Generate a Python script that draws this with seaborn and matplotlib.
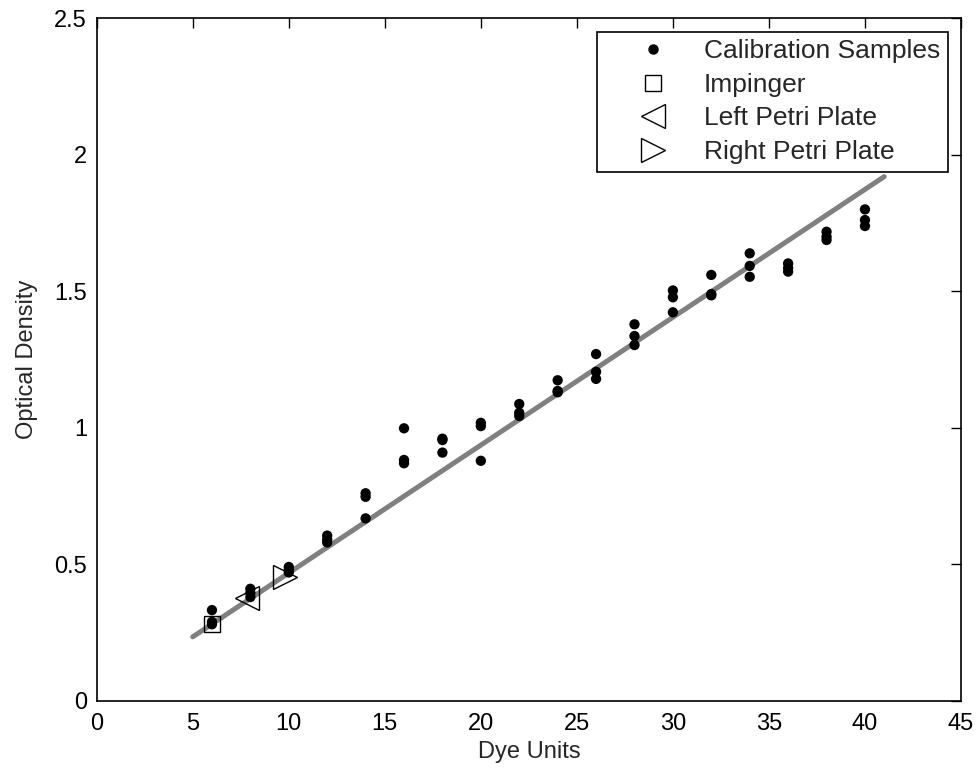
import seaborn as sns
import matplotlib.pyplot as plt
import numpy as np
import pandas as pd
from matplotlib.lines import Line2D

# Calibration samples: three readings per dye concentration
dye = [6, 8, 10, 12, 14, 16, 18, 20, 22, 24, 26, 28, 30, 32, 34, 36, 38, 40]
od_1 = [0.332, 0.41, 0.49, 0.605, 0.760, 0.998, 0.960, 1.018, 1.087, 1.174, 1.270, 1.379, 1.503, 1.560, 1.639, 1.602, 1.718, 1.800]
od_2 = [0.289, 0.395, 0.48, 0.590, 0.747, 0.882, 0.955, 1.006, 1.055, 1.135, 1.205, 1.336, 1.478, 1.490, 1.593, 1.585, 1.700, 1.761]
od_3 = [0.280, 0.38, 0.47, 0.580, 0.668, 0.870, 0.909, 0.879, 1.043, 1.130, 1.179, 1.303, 1.423, 1.485, 1.553, 1.572, 1.688, 1.739]

# fitted calibration line
fit_x = [5, 41]
fit_y = [0.234, 1.92]

# unknown samples
impinger = (6.0, 0.28)
left_petri = (7.8, 0.375)
right_petri = (9.8, 0.455)

df = pd.DataFrame({
    "dye": dye * 3,
    "od": od_1 + od_2 + od_3,
})

sns.set_style("white")
plt.rcParams["font.family"] = ["Liberation Sans", "DejaVu Sans"]

fig = plt.figure(figsize=(9.79, 7.73), dpi=100)
ax = fig.add_axes([0.0988, 0.0935, 0.8828, 0.8828])

sns.lineplot(x=fit_x, y=fit_y, color="#808080", linewidth=3.6, ax=ax, zorder=1)
sns.scatterplot(data=df, x="dye", y="od", color="black", s=55, edgecolor="none",
                ax=ax, zorder=3, legend=False)

h_imp, = ax.plot(*impinger, "s", ms=12, mfc="none", mec="black", mew=1.0, ls="none", zorder=4)
h_left, = ax.plot(*left_petri, "<", ms=17, mfc="none", mec="black", mew=1.0, ls="none", zorder=4)
h_right, = ax.plot(*right_petri, ">", ms=17, mfc="none", mec="black", mew=1.0, ls="none", zorder=4)
h_cal = Line2D([], [], marker="o", ms=6.5, mfc="black", mec="black", ls="none")

ax.set_xlim(0, 45)
ax.set_ylim(0, 2.5)
ax.set_xticks(np.arange(0, 46, 5))
ax.set_yticks(np.arange(0, 2.51, 0.5))
ax.set_yticklabels(["0", "0.5", "1", "1.5", "2", "2.5"])

ax.tick_params(direction="in", length=7, width=1, top=True, right=True,
               labelsize=17, colors="black")
ax.tick_params(axis="x", pad=9)
ax.tick_params(axis="y", pad=7)
for sp in ax.spines.values():
    sp.set_color("black")
    sp.set_linewidth(1.2)

ax.set_xlabel("Dye Units", fontsize=17, labelpad=4)
ax.set_ylabel("Optical Density", fontsize=17, labelpad=12)

leg = ax.legend([h_cal, h_imp, h_left, h_right],
                ["Calibration Samples", "Impinger", "Left Petri Plate", "Right Petri Plate"],
                loc="upper right", fontsize=19, frameon=True, fancybox=False,
                edgecolor="black", framealpha=1, borderaxespad=0.5,
                handlelength=3.7, handletextpad=0.05, labelspacing=0.36,
                borderpad=0.3)
leg.get_frame().set_linewidth(1.2)

fig.savefig("out.png", dpi=100)
